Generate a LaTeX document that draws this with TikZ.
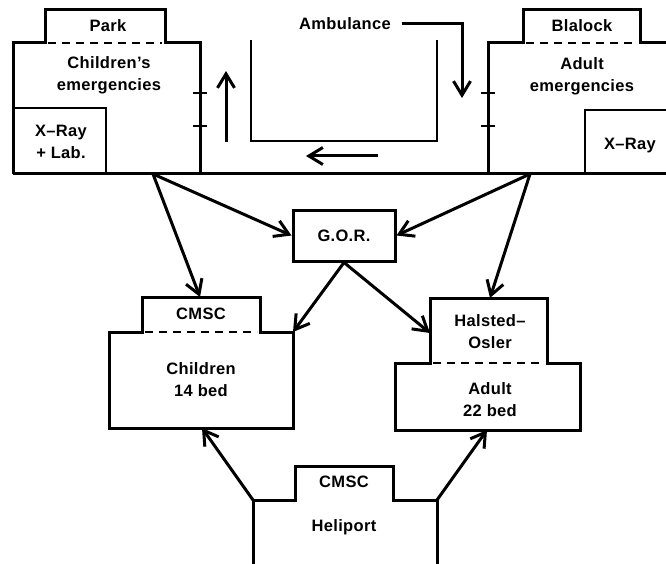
\documentclass[tikz,border=0pt]{standalone}
\usepackage{fontspec}
\setmainfont{Liberation Sans}[LetterSpace=2]
\usetikzlibrary{arrows.meta}
\tikzset{
  wall/.style={line width=3pt, line join=miter},
  thinline/.style={line width=2.6pt},
  dashline/.style={line width=2.4pt, dash pattern=on 8pt off 6pt},
  arr/.style={line width=3pt, -{Straight Barb[length=14pt,width=17pt]}},
  lbl/.style={font=\fontsize{16.5}{22}\selectfont\bfseries, inner sep=0pt, align=center}
}
\begin{document}
\begin{tikzpicture}[x=1pt,y=-1pt]
\useasboundingbox (0,0) rectangle (666,564);

% ---------- Left building (Park) ----------
\draw[wall] (13,174) -- (13,43) -- (45,43) -- (45,10) -- (165,10) -- (165,43) -- (200,43) -- (200,174);
\draw[dashline] (48,43) -- (162,43);
\draw[thinline] (13,108) -- (106,108) -- (106,174);
\draw[thinline] (193,93) -- (207,93);
\draw[thinline] (193,126) -- (207,126);
\node[lbl] (park) at (108,26) {Park};
\node[lbl] (chem) at (109,75) {Children's\\emergencies};
\node[lbl] (xrl) at (61,142) {X--Ray\\+ Lab.};

% ---------- Ground line ----------
\draw[wall] (13,174) -- (666,174);

% ---------- Right building (Blalock) ----------
\draw[wall] (488,174) -- (488,43) -- (523,43) -- (523,10) -- (640,10) -- (640,43) -- (666,43);
\draw[dashline] (526,43) -- (637,43);
\draw[thinline] (585,174) -- (585,110) -- (666,110);
\draw[thinline] (481,93) -- (495,93);
\draw[thinline] (481,126) -- (495,126);
\node[lbl] (blalock) at (582,26) {Blalock};
\node[lbl] (adem) at (582,76) {Adult\\emergencies};
\node[lbl] (xrr) at (630,146) {X--Ray};

% ---------- Ambulance bay ----------
\draw[thinline] (251,40) -- (251,141) -- (437,141) -- (437,40);
\node[lbl] (amb) at (345,24) {Ambulance};
\coordinate (ambA) at (402,24);
\coordinate (ambB) at (462,24);
\coordinate (ambC) at (462,98);
\draw[arr] (ambA) -- (ambB) -- (ambC);
\coordinate (upA) at (226,142);
\coordinate (upB) at (226,71);
\draw[arr] (upA) -- (upB);
\coordinate (lfA) at (378,156);
\coordinate (lfB) at (306,156);
\draw[arr] (lfA) -- (lfB);

% ---------- G.O.R. ----------
\node[draw, wall, minimum width=102pt, minimum height=51pt, inner sep=0pt, font=\fontsize{16.5}{22}\selectfont\bfseries] (gor) at (344,235.5) {G.O.R.};

% ---------- CMSC Children ----------
\draw[wall] (109,428) -- (109,332) -- (142,332) -- (142,297) -- (260,297) -- (260,332) -- (293,332) -- (293,428) -- cycle;
\draw[dashline] (145,332) -- (257,332);
\node[lbl] (cmscA) at (201,314) {CMSC};
\node[lbl] (child) at (201,380) {Children\\14 bed};

% ---------- Halsted-Osler Adult ----------
\draw[wall] (395,430) -- (395,363) -- (430,363) -- (430,298) -- (547,298) -- (547,363) -- (580,363) -- (580,430) -- cycle;
\draw[dashline] (433,363) -- (544,363);
\node[lbl] (halsted) at (490,332) {Halsted--\\Osler};
\node[lbl] (adult) at (490,400) {Adult\\22 bed};

% ---------- Heliport ----------
\draw[wall] (253,566) -- (253,500) -- (295,500) -- (295,466) -- (393,466) -- (393,500) -- (437,500) -- (437,566);
\node[lbl] (cmscH) at (344,482) {CMSC};
\node[lbl] (heli) at (344,527) {Heliport};

% ---------- Connectors ----------
\coordinate (pl) at (153,174);
\coordinate (pr) at (530,174);
\coordinate (ctop) at (200,297);
\coordinate (htop) at (490,298);
\coordinate (cne) at (293,332);
\coordinate (hw) at (430,333);
\coordinate (cbot) at (202,428);
\coordinate (hbot) at (487,430);
\coordinate (hl) at (253,500);
\coordinate (hr) at (437,500);

\draw[arr] (pl) -- (gor.west);
\draw[arr] (pl) -- (ctop);
\draw[arr] (pr) -- (gor.east);
\draw[arr] (pr) -- (htop);
\draw[arr] (gor.south) -- (cne);
\draw[arr] (gor.south) -- (hw);
\draw[arr] (hl) -- (cbot);
\draw[arr] (hr) -- (hbot);
\end{tikzpicture}
\end{document}
